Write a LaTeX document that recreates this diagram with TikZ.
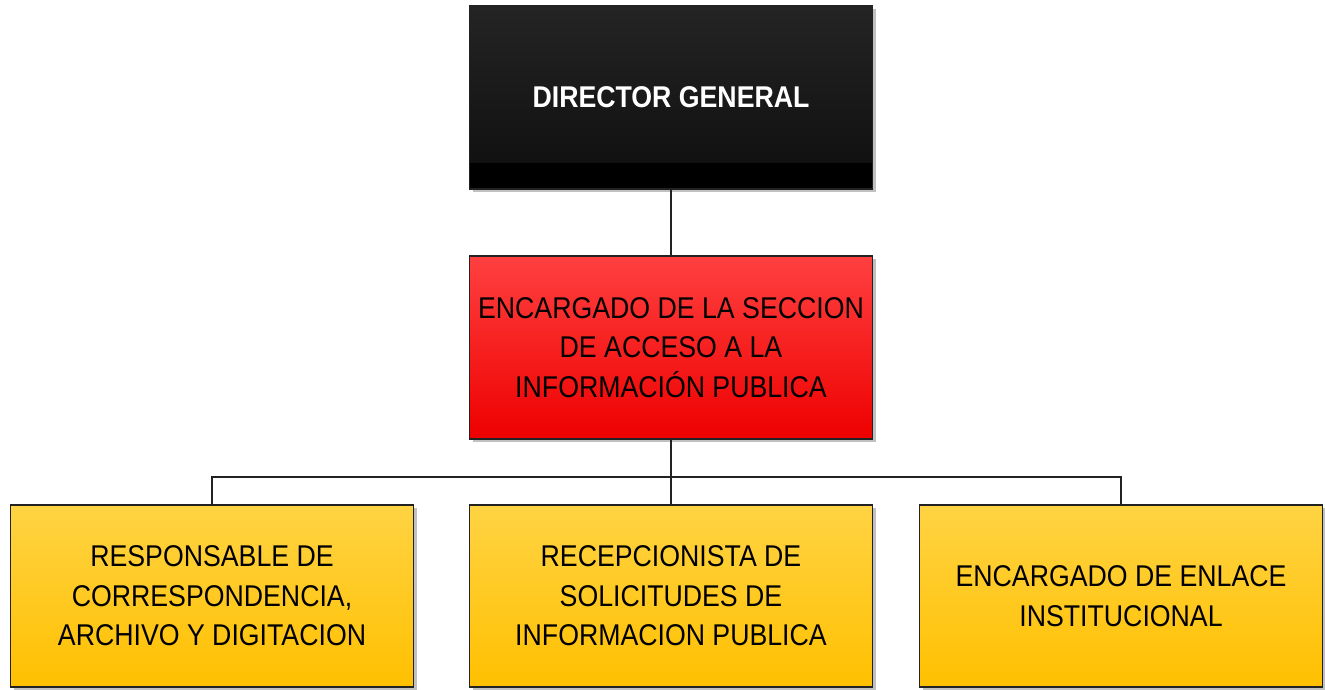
\documentclass[tikz,border=0pt]{standalone}
\usepackage{fontspec}
\setmainfont{Liberation Sans}
\newfontfamily\cond[FakeStretch=0.89]{Liberation Sans}
\usetikzlibrary{shadows}
\definecolor{bordc}{HTML}{222222}
\definecolor{redtop}{HTML}{FF4040}
\definecolor{redbot}{HTML}{EE0000}
\definecolor{yeltop}{HTML}{FFD343}
\definecolor{yelbot}{HTML}{FFC000}
\definecolor{dirtop}{HTML}{242424}
\definecolor{dirbot}{HTML}{0E0E0E}
\begin{document}
\begin{tikzpicture}[x=1pt,y=-1pt]
\useasboundingbox[fill=white] (0,0) rectangle (1325,689);
\tikzset{
  box/.style={draw=bordc, line width=1.8pt, minimum width=403pt, minimum height=183pt,
    inner sep=0pt, align=center, font=\cond\fontsize{30}{39.5}\selectfont,
    drop shadow={shadow xshift=3pt, shadow yshift=-3pt, opacity=0.35, fill=black!70}},
  dirbox/.style={box, top color=dirtop, bottom color=dirbot, text=white,
    font=\cond\bfseries\fontsize{30}{39.5}\selectfont,
    path picture={\fill[black] ([yshift=26pt]path picture bounding box.south west) rectangle (path picture bounding box.south east);}},
  redbox/.style={box, top color=redtop, bottom color=redbot, text=black},
  yelbox/.style={box, top color=yeltop, bottom color=yelbot, text=black, minimum height=182pt},
  link/.style={draw=bordc, line width=1.8pt}
}
\node[dirbox] (dir) at (671,97.5) {DIRECTOR GENERAL};
\node[redbox] (enc) at (671,347.5) {ENCARGADO DE LA SECCION\\DE ACCESO A LA\\INFORMACIÓN PUBLICA};
\node[yelbox] (r1) at (212,596) {RESPONSABLE DE\\CORRESPONDENCIA,\\ARCHIVO Y DIGITACION};
\node[yelbox] (r2) at (671,596) {RECEPCIONISTA DE\\SOLICITUDES DE\\INFORMACION PUBLICA};
\node[yelbox] (r3) at (1121,596) {ENCARGADO DE ENLACE\\INSTITUCIONAL};
\coordinate (j) at (671,477);
\draw[link] (dir.south) -- (enc.north);
\draw[link] (enc.south) -- (j);
\draw[link] (r1.north) |- (j) -| (r3.north);
\draw[link] (j) -- (r2.north);
\end{tikzpicture}
\end{document}
